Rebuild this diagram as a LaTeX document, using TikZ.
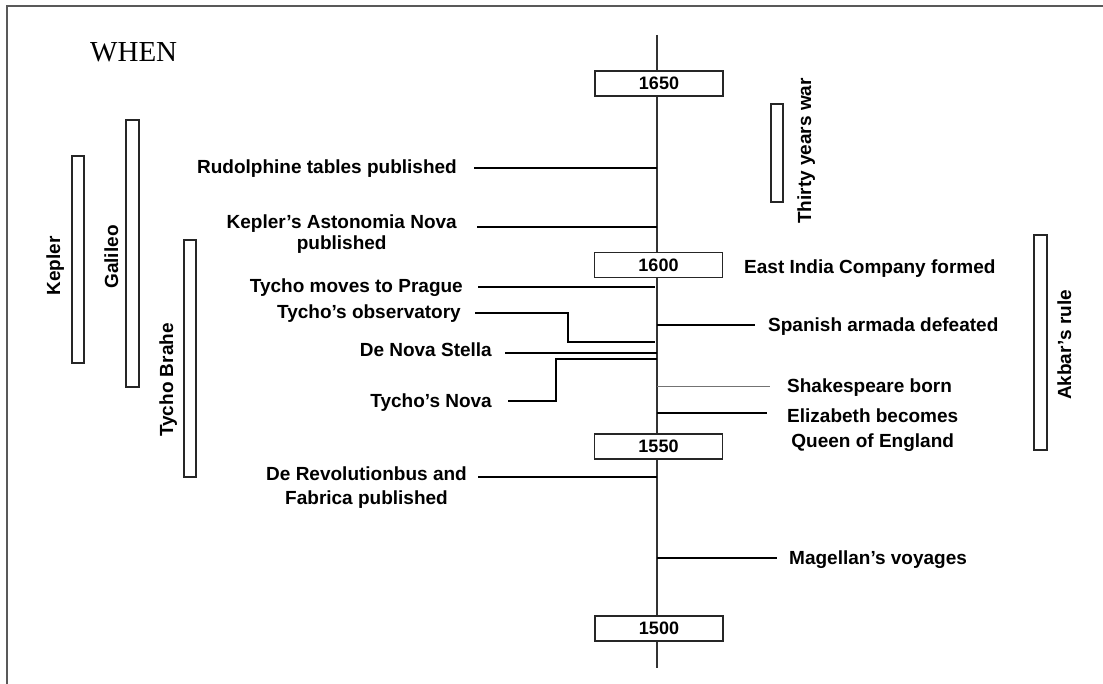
\documentclass[tikz,border=0pt]{standalone}
\usepackage{fontspec}
\setmainfont{Liberation Serif}
\setsansfont{Liberation Sans}
\begin{document}
\begin{tikzpicture}[x=1pt,y=-1pt,
  lab/.style={font=\sffamily\bfseries\fontsize{19}{21}\selectfont, inner sep=0pt},
  vlab/.style={lab, rotate=90, anchor=base},
  yearbox/.style={draw=black!85, line width=1.5pt, fill=white, minimum width=128pt,
    minimum height=25pt, inner sep=0pt, font=\sffamily\bfseries\fontsize{18}{20}\selectfont},
  bar/.style={draw=black!85, line width=1.5pt, fill=white},
  evline/.style={line width=2pt, black},
  thinline/.style={line width=0.8pt, black!55},
  frame/.style={line width=2pt, black!65},
  axis/.style={line width=2pt, black!80},
]
\useasboundingbox (0,0) rectangle (1103,684);
% frame
\draw[frame] (6.5,684) -- (6.5,6.5) -- (1103,6.5);
% title
\node[font=\fontsize{29}{32}\selectfont, anchor=base west, inner sep=0pt] (when) at (90,62) {WHEN};

% axis
\coordinate (top) at (657,35);
\coordinate (bot) at (657,668);
\draw[axis] (top) -- (bot);

% year boxes
\node[yearbox] (y1650) at (659,83.5) {1650};
\node[yearbox] (y1600) at (658.5,265) {1600};
\node[yearbox] (y1550) at (658.5,446.5) {1550};
\node[yearbox] (y1500) at (659,628.5) {1500};

% person bars
\draw[bar] (72,156) rectangle (84,363);
\node[vlab] (kepler) at (60,266) {Kepler};
\draw[bar] (126,120) rectangle (139,387);
\node[vlab] (galileo) at (118,257) {Galileo};
\draw[bar] (184,240) rectangle (196,477);
\node[vlab] (tycho) at (173,380) {Tycho Brahe};
\draw[bar] (771,104) rectangle (783,202);
\node[vlab] (thirty) at (811,151) {Thirty years war};
\draw[bar] (1034,235) rectangle (1047,450);
\node[vlab] (akbar) at (1071,345) {Akbar’s rule};

% left events
\node[lab, anchor=base east] (rud) at (457,174) {Rudolphine tables published};
\coordinate (aRud) at (657,168);
\draw[evline] (474,168) -- (aRud);

\node[lab, anchor=base east, align=center] (astro) at (457,250) {Kepler’s Astonomia Nova\\published};
\coordinate (aAstro) at (657,227);
\draw[evline] (477,227) -- (aAstro);

\node[lab, anchor=base east] (prague) at (463,293) {Tycho moves to Prague};
\coordinate (aPrague) at (655,287);
\draw[evline] (478,287) -- (aPrague);

\node[lab, anchor=base east] (obs) at (461,319) {Tycho’s observatory};
\coordinate (aObs) at (655,342);
\draw[evline] (475,313) -- (568,313) -- (568,342) -- (aObs);

\node[lab, anchor=base east] (stella) at (492,357) {De Nova Stella};
\coordinate (aStella) at (657,353);
\draw[evline] (505,353) -- (aStella);

\node[lab, anchor=base east] (tnova) at (492,408) {Tycho’s Nova};
\coordinate (aTnova) at (657,359);
\draw[evline] (508,401) -- (556,401) -- (556,359) -- (aTnova);

\node[lab, anchor=base east, align=center, font=\sffamily\bfseries\fontsize{19}{24}\selectfont] (rev) at (467,504) {De Revolutionbus and\\Fabrica published};
\coordinate (aRev) at (657,477);
\draw[evline] (478,477) -- (aRev);

% right events
\node[lab, anchor=base west] (eic) at (744,274) {East India Company formed};

\coordinate (aSpan) at (657,325);
\node[lab, anchor=base west] (span) at (768,332) {Spanish armada defeated};
\draw[evline] (aSpan) -- (755,325);

\coordinate (aShak) at (657,386);
\node[lab, anchor=base west] (shak) at (787,393) {Shakespeare born};
\draw[thinline] (aShak) -- (770,386);

\coordinate (aEliz) at (657,413);
\node[lab, anchor=base west, align=center, font=\sffamily\bfseries\fontsize{19}{25}\selectfont] (eliz) at (787,447) {Elizabeth becomes\\Queen of England};
\draw[evline] (aEliz) -- (767,413);

\coordinate (aMag) at (657,558);
\node[lab, anchor=base west] (mag) at (789,564) {Magellan’s voyages};
\draw[evline] (aMag) -- (777,558);
\end{tikzpicture}
\end{document}
